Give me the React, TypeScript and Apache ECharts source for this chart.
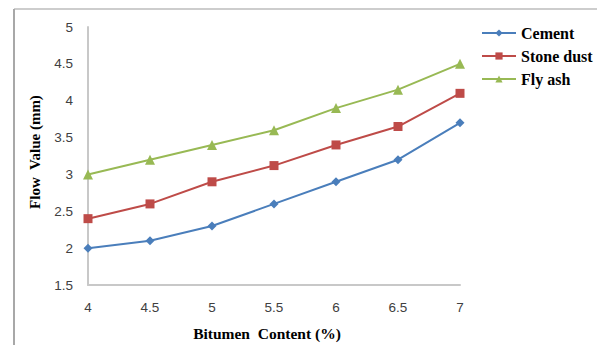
import React, { useEffect, useRef } from "react";
import * as echarts from "echarts";

const bitumenContent = [4, 4.5, 5, 5.5, 6, 6.5, 7];
const cement = [2.0, 2.1, 2.3, 2.6, 2.9, 3.2, 3.7];
const stoneDust = [2.4, 2.6, 2.9, 3.12, 3.4, 3.65, 4.1];
const flyAsh = [3.0, 3.2, 3.4, 3.6, 3.9, 4.15, 4.5];
const seriesNames = ["Cement", "Stone dust", "Fly ash"];

const pairs = (ys: number[]) => bitumenContent.map((x, i) => [x, ys[i]]);

export default function App() {
  const ref = useRef<HTMLDivElement>(null);

  useEffect(() => {
    if (!ref.current) return;
    const chart = echarts.init(ref.current, undefined, { renderer: "svg" });
    const serif = "'Liberation Serif', 'Times New Roman', serif";
    const sans = "'Liberation Sans', Arial, sans-serif";
    const lineSeries = (name: string, data: number[], color: string, symbol: string, size: number) => ({
      name,
      type: "line",
      data: pairs(data),
      symbol,
      symbolSize: size,
      lineStyle: { color, width: 2 },
      itemStyle: { color },
    });
    chart.setOption({
      animation: false,
      backgroundColor: "#ffffff",
      grid: { left: 88, right: 137, top: 27, bottom: 60, outerBoundsMode: "none", containLabel: false },
      legend: {
        orient: "vertical",
        left: 476,
        top: 20,
        itemWidth: 34,
        itemHeight: 9,
        itemGap: 7,
        textStyle: { fontFamily: serif, fontWeight: "bold", fontSize: 16, color: "#000" },
        data: seriesNames,
      },
      xAxis: {
        type: "value",
        min: 4,
        max: 7,
        interval: 0.5,
        splitLine: { show: false },
        axisLine: { lineStyle: { color: "#c8c8c8", width: 2 } },
        axisTick: { show: false },
        axisLabel: { color: "#404040", fontFamily: sans, fontSize: 13.5, margin: 15 },
        name: "Bitumen  Content (%)",
        nameLocation: "middle",
        nameGap: 40,
        nameTextStyle: { fontFamily: serif, fontWeight: "bold", fontSize: 15.5, color: "#000", padding: [0, 14, 0, 0] },
      },
      yAxis: {
        type: "value",
        min: 1.5,
        max: 5,
        interval: 0.5,
        splitLine: { show: false },
        axisLine: { show: true, lineStyle: { color: "#c8c8c8", width: 2 } },
        axisTick: { show: false },
        axisLabel: { color: "#404040", fontFamily: sans, fontSize: 13.5, margin: 15 },
        name: "Flow  Value (mm)",
        nameLocation: "middle",
        nameGap: 46,
        nameTextStyle: { fontFamily: serif, fontWeight: "bold", fontSize: 15, color: "#000", padding: [0, 0, 0, 8] },
      },
      graphic: [
        { type: "line", shape: { x1: 14, y1: 9, x2: 597, y2: 9 }, style: { stroke: "#bdbdbd", lineWidth: 1.5 } },
        { type: "line", shape: { x1: 14, y1: 9, x2: 14, y2: 345 }, style: { stroke: "#a8a8a8", lineWidth: 2 } },
      ],
      series: [
        lineSeries(seriesNames[0], cement, "#4a7ebb", "diamond", 9),
        lineSeries(seriesNames[1], stoneDust, "#be4b48", "rect", 9),
        lineSeries(seriesNames[2], flyAsh, "#98b954", "triangle", 10),
      ],
    });
    return () => chart.dispose();
  }, []);

  return (
    <div
      ref={ref}
      style={{ position: "fixed", left: 0, top: 0, width: 597, height: 345, background: "#fff" }}
    />
  );
}
